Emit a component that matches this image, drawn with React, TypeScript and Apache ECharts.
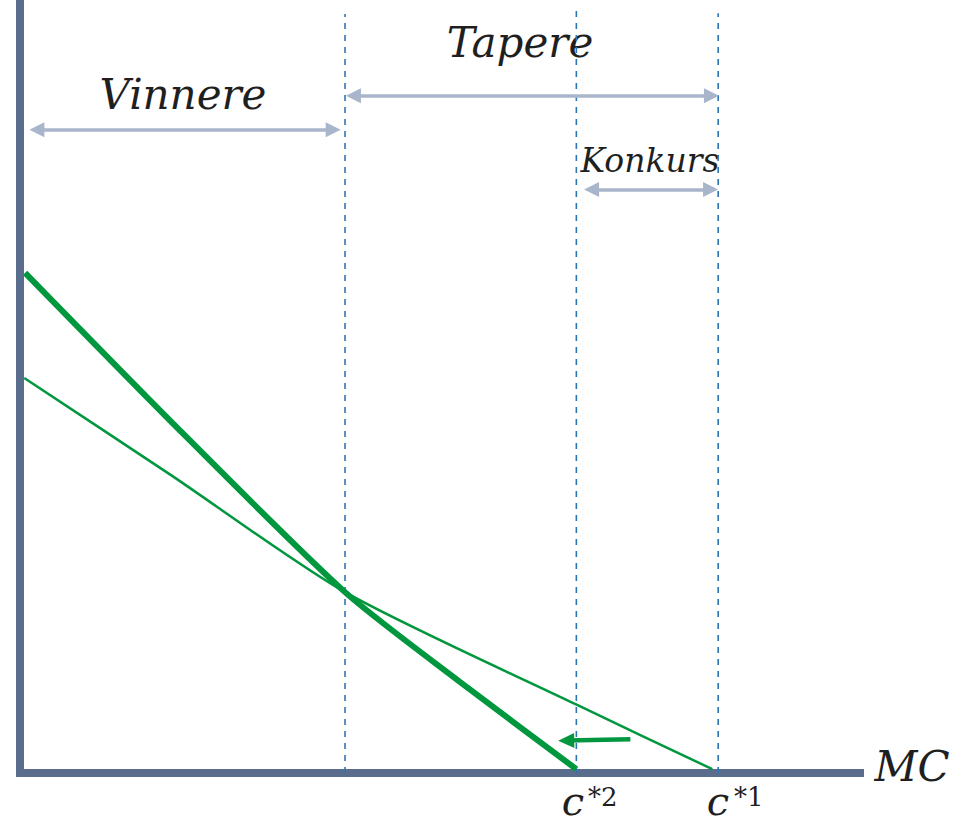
import React, { useEffect, useRef } from "react";
import * as echarts from "echarts";

// Data coordinates: x 0..99.5 (MC), y 0..100
const thickCurve: number[][] = [
  [0.6, 64.7],
  [19.5, 43.7],
  [38.5, 23.4],
  [52.1, 11.8],
  [65.9, 0.5],
];
const thinCurve: number[][] = [
  [0.5, 51.1],
  [17.8, 38.6],
  [38.5, 23.4],
  [66.0, 8.8],
  [82.0, 0.5],
];
const dividerX = [38.5, 65.9, 82.7];
const dividerTop = [98.2, 99.0, 98.3];
const rangeNames = ["Vinnere", "Tapere", "Konkurs"];
const rangeFrom: number[][] = [
  [2.0, 83.2],
  [39.5, 87.6],
  [67.7, 75.5],
];
const rangeTo: number[][] = [
  [37.1, 83.2],
  [81.9, 87.6],
  [81.8, 75.5],
];
const shiftFrom = [72.3, 4.35];
const shiftTo = [64.7, 4.2];

const AXIS = "#5a6d8c";
const GREEN = "#00973f";
const BLUE = "#2f75b5";
const GREY = "#a9b5ca";
const TEXT = "#1f1f1f";
const FONT = "DejaVu Serif";

export default function App() {
  const ref = useRef<HTMLDivElement>(null);
  useEffect(() => {
    document.body.style.margin = "0";
    document.body.style.overflow = "hidden";
    const chart = echarts.init(ref.current!, null, { renderer: "svg" });

    const dividerSeries = dividerX.map((x, i) => ({
      type: "line",
      data: [
        [x, 0],
        [x, dividerTop[i]],
      ],
      showSymbol: false,
      symbol: "none",
      z: 1,
      lineStyle: { color: BLUE, width: 1.6, type: [6, 6] },
    }));

    const arrowMarks = rangeNames.map((n, i) => [
      { coord: rangeFrom[i], name: n },
      { coord: rangeTo[i] },
    ]);

    const option: any = {
      animation: false,
      grid: { left: 20, right: 108, top: 0, bottom: 50, containLabel: false },
      xAxis: {
        type: "value",
        min: 0,
        max: 99.5,
        axisLine: { show: true, onZero: false, lineStyle: { color: AXIS, width: 8, cap: "square" } },
        axisTick: { show: false },
        axisLabel: { show: false },
        splitLine: { show: false },
      },
      yAxis: {
        type: "value",
        min: 0,
        max: 100,
        axisLine: { show: true, onZero: false, lineStyle: { color: AXIS, width: 8, cap: "square" } },
        axisTick: { show: false },
        axisLabel: { show: false },
        splitLine: { show: false },
      },
      series: [
        ...dividerSeries,
        {
          type: "line",
          data: thinCurve,
          symbol: "none",
          smooth: 0.25,
          z: 3,
          lineStyle: { color: GREEN, width: 2.5 },
        },
        {
          type: "line",
          data: thickCurve,
          symbol: "none",
          smooth: 0.25,
          z: 4,
          lineStyle: { color: GREEN, width: 6 },
        },
        {
          type: "line",
          data: [],
          z: 5,
          markLine: {
            silent: true,
            symbol: ["triangle", "triangle"],
            symbolSize: [15, 15],
            label: { show: false },
            lineStyle: { color: GREY, width: 3.5, type: "solid" },
            data: arrowMarks,
          },
        },
        {
          type: "line",
          data: [],
          z: 5,
          markLine: {
            silent: true,
            symbol: ["none", "triangle"],
            symbolSize: [15, 16],
            label: { show: false },
            lineStyle: { color: GREEN, width: 4.5, type: "solid" },
            data: [[{ coord: shiftFrom }, { coord: shiftTo }]],
          },
        },
      ],
      graphic: [
        { type: "text", x: 183, y: 94, style: { text: "Vinnere", font: `italic 42px '${FONT}'`, fill: TEXT, textAlign: "center", textVerticalAlign: "middle" } },
        { type: "text", x: 520, y: 42, style: { text: "Tapere", font: `italic 42px '${FONT}'`, fill: TEXT, textAlign: "center", textVerticalAlign: "middle" } },
        { type: "text", x: 650, y: 160, style: { text: "Konkurs", font: `italic 33px '${FONT}'`, fill: TEXT, textAlign: "center", textVerticalAlign: "middle" } },
        { type: "text", x: 912, y: 766, style: { text: "MC", font: `italic 42px '${FONT}'`, fill: TEXT, textAlign: "center", textVerticalAlign: "middle" } },
        { type: "text", x: 573, y: 801, style: { text: "c", font: `italic 40px '${FONT}'`, fill: TEXT, textAlign: "center", textVerticalAlign: "middle" } },
        { type: "text", x: 588, y: 797, style: { text: "*2", font: `26px '${FONT}'`, fill: TEXT, textAlign: "left", textVerticalAlign: "middle" } },
        { type: "text", x: 718, y: 801, style: { text: "c", font: `italic 40px '${FONT}'`, fill: TEXT, textAlign: "center", textVerticalAlign: "middle" } },
        { type: "text", x: 734, y: 797, style: { text: "*1", font: `26px '${FONT}'`, fill: TEXT, textAlign: "left", textVerticalAlign: "middle" } },
      ],
    };
    chart.setOption(option);
    return () => chart.dispose();
  }, []);
  return <div ref={ref} style={{ width: 968, height: 823 }} />;
}
